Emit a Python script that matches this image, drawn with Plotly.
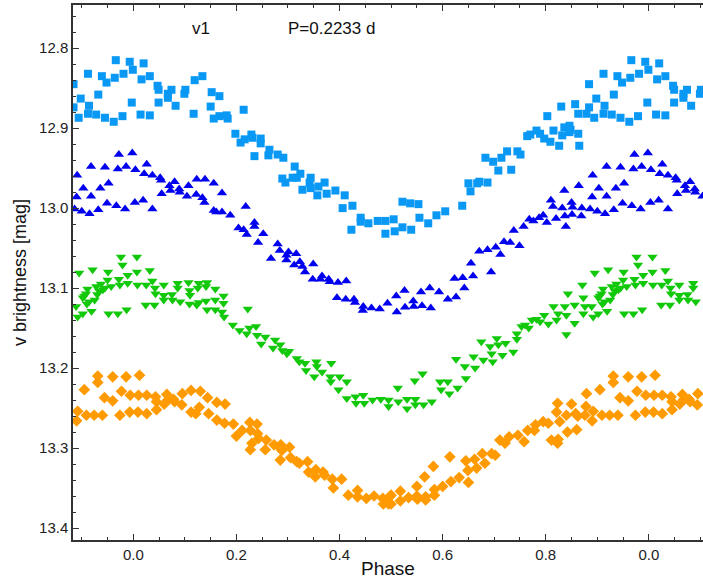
import plotly.graph_objects as go

# ---- data (phase in [0,1), v magnitude) ----
squares = [
    (0.016, 12.839), (0.020, 12.819), (0.014, 12.883), (0.032, 12.884), (0.032, 12.835),
    (0.047, 12.847), (0.049, 12.852), (0.049, 12.868), (0.067, 12.857), (0.067, 12.862),
    (0.074, 12.852), (0.082, 12.872), (0.099, 12.857), (0.101, 12.852), (0.117, 12.882),
    (0.119, 12.840), (0.134, 12.835), (0.150, 12.873), (0.152, 12.855), (0.156, 12.888),
    (0.167, 12.860), (0.167, 12.885), (0.181, 12.884), (0.183, 12.888), (0.214, 12.877),
    (0.198, 12.907), (0.208, 12.918), (0.216, 12.914), (0.229, 12.908), (0.231, 12.912),
    (0.235, 12.935), (0.247, 12.913), (0.247, 12.919), (0.264, 12.927), (0.262, 12.934),
    (0.280, 12.933), (0.291, 12.937), (0.313, 12.948), (0.324, 12.957), (0.289, 12.963),
    (0.295, 12.968), (0.309, 12.962), (0.317, 12.962), (0.328, 12.977), (0.344, 12.962),
    (0.342, 12.968), (0.344, 12.975), (0.357, 12.984), (0.359, 12.973), (0.371, 12.968),
    (0.375, 12.982), (0.392, 12.978), (0.410, 12.984), (0.406, 13.000), (0.425, 12.997),
    (0.423, 13.027), (0.441, 13.012), (0.441, 13.017), (0.456, 13.019), (0.474, 13.016),
    (0.489, 13.016), (0.489, 13.032),
    (0.505, 13.014), (0.507, 13.029), (0.522, 13.024), (0.539, 13.027), (0.522, 12.992),
    (0.537, 12.994), (0.553, 12.995), (0.555, 13.012), (0.572, 13.019), (0.588, 13.009),
    (0.605, 13.004), (0.638, 12.997), (0.650, 12.969), (0.654, 12.979), (0.667, 12.969),
    (0.671, 12.967), (0.687, 12.968), (0.683, 12.937), (0.698, 12.942), (0.714, 12.937),
    (0.725, 12.929), (0.745, 12.929), (0.751, 12.933), (0.708, 12.953), (0.733, 12.952),
    (0.764, 12.910), (0.770, 12.908), (0.782, 12.903), (0.789, 12.907), (0.797, 12.913),
    (0.809, 12.917), (0.815, 12.903), (0.826, 12.922), (0.832, 12.909), (0.836, 12.899),
    (0.846, 12.897), (0.848, 12.902), (0.846, 12.905), (0.863, 12.907), (0.865, 12.922),
    (0.803, 12.885), (0.830, 12.873), (0.857, 12.870), (0.863, 12.882), (0.879, 12.882),
    (0.884, 12.874), (0.894, 12.887), (0.898, 12.863), (0.912, 12.882), (0.914, 12.872),
    (0.928, 12.883), (0.932, 12.858), (0.945, 12.887), (0.962, 12.892), (0.979, 12.885),
    (0.884, 12.845), (0.912, 12.832), (0.939, 12.835), (0.948, 12.843), (0.964, 12.837),
    (0.966, 12.815), (0.981, 12.832), (0.993, 12.817), (0.997, 12.868), (0.999, 12.827),
]

triangles_up = [
    (0.004, 12.952), (0.003, 12.993), (0.021, 12.957), (0.026, 12.945), (0.019, 12.990),
    (0.037, 12.959), (0.037, 13.001), (0.052, 12.962), (0.054, 12.965), (0.055, 12.982),
    (0.070, 12.972), (0.072, 12.978), (0.080, 12.967), (0.089, 12.976), (0.090, 12.980),
    (0.107, 12.972), (0.104, 12.985), (0.123, 12.964), (0.122, 12.983), (0.139, 12.964),
    (0.134, 12.987), (0.138, 12.993), (0.156, 12.969), (0.172, 12.981), (0.156, 13.003),
    (0.161, 13.005), (0.172, 13.005), (0.188, 13.009), (0.218, 12.998), (0.204, 13.025),
    (0.214, 13.027), (0.220, 13.033), (0.235, 13.018), (0.235, 13.023), (0.252, 13.032),
    (0.242, 13.043), (0.280, 13.045), (0.284, 13.053), (0.267, 13.063), (0.297, 13.059),
    (0.301, 13.055), (0.297, 13.065), (0.316, 13.057), (0.312, 13.071), (0.323, 13.067),
    (0.328, 13.073), (0.333, 13.080), (0.349, 13.070), (0.348, 13.089), (0.363, 13.089),
    (0.366, 13.085), (0.379, 13.089), (0.381, 13.092), (0.397, 13.093), (0.413, 13.091),
    (0.395, 13.112), (0.412, 13.114), (0.428, 13.114), (0.430, 13.118), (0.446, 13.123),
    (0.445, 13.128), (0.462, 13.125), (0.478, 13.126), (0.493, 13.119),
    (0.510, 13.110), (0.511, 13.130), (0.526, 13.103), (0.527, 13.124), (0.543, 13.116),
    (0.544, 13.123), (0.560, 13.122), (0.558, 13.105), (0.575, 13.100), (0.577, 13.125),
    (0.593, 13.105), (0.610, 13.114), (0.626, 13.111), (0.642, 13.100), (0.623, 13.088),
    (0.639, 13.087), (0.659, 13.085), (0.694, 13.080), (0.655, 13.069), (0.671, 13.054),
    (0.687, 13.052), (0.703, 13.049), (0.712, 13.058), (0.719, 13.042), (0.731, 13.043),
    (0.749, 13.047), (0.738, 13.028), (0.757, 13.023), (0.768, 13.014), (0.776, 13.016),
    (0.787, 13.012), (0.795, 13.009), (0.802, 13.018), (0.810, 12.990), (0.814, 12.998),
    (0.820, 13.013), (0.832, 13.000), (0.837, 13.010), (0.839, 13.023), (0.836, 12.978),
    (0.850, 12.993), (0.852, 12.999), (0.851, 13.008), (0.864, 12.972), (0.870, 13.000),
    (0.869, 13.010), (0.886, 13.001), (0.890, 12.986), (0.891, 12.959), (0.900, 13.004),
    (0.903, 12.975), (0.915, 13.007), (0.918, 12.985), (0.918, 12.948), (0.932, 13.002),
    (0.936, 12.975), (0.945, 12.949), (0.949, 12.994), (0.952, 12.969), (0.967, 12.997),
    (0.970, 12.951), (0.972, 12.933), (0.984, 13.001), (0.986, 12.948), (0.998, 12.931),
]

triangles_down = [
    (0.007, 13.061), (0.007, 13.080), (0.008, 13.096), (0.025, 13.096), (0.032, 13.078),
    (0.037, 13.091), (0.024, 13.121), (0.041, 13.121), (0.042, 13.100), (0.043, 13.107),
    (0.059, 13.096), (0.059, 13.109), (0.059, 13.115), (0.075, 13.108), (0.076, 13.115),
    (0.086, 13.094), (0.086, 13.100), (0.091, 13.117), (0.107, 13.093), (0.109, 13.103),
    (0.109, 13.120), (0.110, 13.109), (0.127, 13.094), (0.125, 13.100), (0.127, 13.118),
    (0.123, 13.121), (0.143, 13.093), (0.141, 13.098), (0.143, 13.127), (0.141, 13.116),
    (0.159, 13.115), (0.159, 13.101), (0.159, 13.127), (0.175, 13.110), (0.175, 13.119),
    (0.172, 13.130), (0.176, 13.136), (0.222, 13.126), (0.193, 13.146), (0.206, 13.153),
    (0.220, 13.157), (0.225, 13.150), (0.238, 13.148), (0.240, 13.159), (0.248, 13.170),
    (0.256, 13.161), (0.271, 13.175), (0.275, 13.165), (0.285, 13.171), (0.289, 13.178),
    (0.298, 13.182), (0.302, 13.179), (0.317, 13.188), (0.322, 13.192), (0.333, 13.194),
    (0.335, 13.203), (0.355, 13.192), (0.356, 13.198), (0.351, 13.211), (0.366, 13.205),
    (0.382, 13.211), (0.384, 13.194), (0.383, 13.217), (0.400, 13.211), (0.398, 13.227),
    (0.414, 13.217), (0.414, 13.238), (0.431, 13.236), (0.432, 13.244), (0.446, 13.234),
    (0.448, 13.244), (0.464, 13.240), (0.480, 13.239), (0.495, 13.248), (0.495, 13.240),
    (0.514, 13.242), (0.513, 13.225), (0.531, 13.239), (0.531, 13.251), (0.547, 13.239),
    (0.547, 13.246), (0.546, 13.216), (0.561, 13.207), (0.563, 13.246), (0.579, 13.242),
    (0.595, 13.217), (0.597, 13.227), (0.610, 13.217), (0.613, 13.232), (0.629, 13.225),
    (0.626, 13.189), (0.643, 13.198), (0.645, 13.213), (0.660, 13.186), (0.663, 13.200),
    (0.679, 13.190), (0.675, 13.167), (0.692, 13.173), (0.695, 13.182), (0.697, 13.192),
    (0.705, 13.163), (0.708, 13.171), (0.716, 13.184), (0.722, 13.169), (0.737, 13.180),
    (0.744, 13.157), (0.744, 13.164), (0.753, 13.148), (0.760, 13.146), (0.767, 13.150),
    (0.773, 13.140), (0.782, 13.139), (0.789, 13.142), (0.797, 13.134), (0.805, 13.145),
    (0.815, 13.123), (0.821, 13.140), (0.824, 13.132), (0.837, 13.123), (0.840, 13.134),
    (0.840, 13.158), (0.843, 13.107), (0.856, 13.121), (0.856, 13.144), (0.871, 13.096),
    (0.873, 13.112), (0.873, 13.132), (0.876, 13.123), (0.889, 13.123), (0.892, 13.136),
    (0.895, 13.081), (0.902, 13.112), (0.902, 13.132), (0.908, 13.107), (0.911, 13.101),
    (0.914, 13.117), (0.919, 13.129), (0.921, 13.077), (0.928, 13.098), (0.934, 13.104),
    (0.937, 13.095), (0.941, 13.102), (0.950, 13.090), (0.951, 13.080), (0.952, 13.132),
    (0.957, 13.098), (0.970, 13.132), (0.972, 13.089), (0.974, 13.096), (0.976, 13.061),
    (0.979, 13.071), (0.989, 13.084), (0.989, 13.094), (0.987, 13.127),
    (0.905, 13.110), (0.910, 13.120), (0.925, 13.115), (0.930, 13.108), (0.945, 13.100),
]

diamonds = [
    (0.012, 13.209), (0.010, 13.234), (0.009, 13.255), (0.026, 13.234), (0.026, 13.257),
    (0.043, 13.236), (0.045, 13.242), (0.045, 13.252), (0.060, 13.245), (0.065, 13.233),
    (0.067, 13.240), (0.078, 13.239), (0.080, 13.242), (0.094, 13.246), (0.095, 13.232),
    (0.112, 13.228), (0.112, 13.255), (0.121, 13.257), (0.128, 13.249), (0.130, 13.229),
    (0.144, 13.237), (0.146, 13.257), (0.162, 13.243), (0.162, 13.265), (0.178, 13.245),
    (0.177, 13.269), (0.194, 13.270), (0.200, 13.285), (0.211, 13.278), (0.226, 13.268),
    (0.227, 13.278), (0.230, 13.294), (0.227, 13.302), (0.240, 13.270), (0.241, 13.282),
    (0.243, 13.288), (0.258, 13.290), (0.256, 13.302), (0.273, 13.296), (0.284, 13.299),
    (0.286, 13.296), (0.285, 13.315), (0.288, 13.303), (0.303, 13.299), (0.305, 13.312),
    (0.317, 13.317), (0.322, 13.319), (0.338, 13.317), (0.340, 13.330), (0.354, 13.327),
    (0.353, 13.336), (0.368, 13.330), (0.371, 13.334), (0.386, 13.339), (0.388, 13.350),
    (0.404, 13.339), (0.417, 13.359), (0.435, 13.353), (0.435, 13.361), (0.452, 13.363),
    (0.467, 13.360), (0.484, 13.363), (0.485, 13.370), (0.497, 13.361), (0.495, 13.370),
    (0.500, 13.359), (0.500, 13.370), (0.518, 13.354), (0.518, 13.366), (0.534, 13.362),
    (0.550, 13.360), (0.551, 13.364), (0.567, 13.361), (0.567, 13.365), (0.550, 13.348),
    (0.565, 13.336), (0.582, 13.323), (0.584, 13.352), (0.584, 13.359), (0.600, 13.348),
    (0.616, 13.342), (0.614, 13.311), (0.632, 13.337), (0.650, 13.343), (0.645, 13.316),
    (0.649, 13.328), (0.662, 13.314), (0.666, 13.325), (0.677, 13.307), (0.682, 13.319),
    (0.695, 13.307), (0.702, 13.309), (0.711, 13.290), (0.721, 13.294), (0.729, 13.286),
    (0.746, 13.284), (0.758, 13.292), (0.765, 13.278), (0.778, 13.278), (0.780, 13.271),
    (0.795, 13.267), (0.805, 13.269), (0.811, 13.290), (0.823, 13.294), (0.824, 13.289),
    (0.823, 13.244), (0.821, 13.255), (0.827, 13.267), (0.840, 13.259), (0.842, 13.280),
    (0.850, 13.245), (0.858, 13.257), (0.860, 13.277), (0.862, 13.260), (0.876, 13.259),
    (0.878, 13.248), (0.879, 13.232), (0.890, 13.266), (0.892, 13.254), (0.905, 13.227),
    (0.909, 13.259), (0.924, 13.259), (0.931, 13.210), (0.931, 13.218), (0.940, 13.259),
    (0.944, 13.237), (0.960, 13.211), (0.960, 13.241), (0.974, 13.259), (0.977, 13.229),
    (0.986, 13.211), (0.993, 13.255), (0.994, 13.234),
]

x_tick_vals = [0.0, 0.2, 0.4, 0.6, 0.8, 1.0]
x_tick_text = ["0.0", "0.2", "0.4", "0.6", "0.8", "0.0"]
y_tick_vals = [12.8, 12.9, 13.0, 13.1, 13.2, 13.3, 13.4]
y_tick_text = ["12.8", "12.9", "13.0", "13.1", "13.2", "13.3", "13.4"]

X_RANGE = [-0.117, 1.105]
Y_RANGE = [13.415, 12.746]


def folded(points):
    """Phase-folded display: repeat points shifted by one period within the x range."""
    xs, ys = [], []
    for ph, m in points:
        for shift in (-1.0, 0.0, 1.0):
            x = ph + shift
            if X_RANGE[0] <= x <= X_RANGE[1]:
                xs.append(x)
                ys.append(m)
    return xs, ys


series = [
    (squares, "square", "#0A98F5", 8),
    (triangles_up, "triangle-up", "#0000EE", 9),
    (triangles_down, "triangle-down", "#12C80A", 9),
    (diamonds, "diamond", "#FF9A00", 9),
]

fig = go.Figure()
for pts, sym, col, size in series:
    xs, ys = folded(pts)
    fig.add_trace(go.Scatter(
        x=xs, y=ys, mode="markers",
        marker=dict(symbol=sym, color=col, size=size, line=dict(width=0)),
        showlegend=False, hoverinfo="skip",
    ))

font_family = "Liberation Sans, Arial, sans-serif"

fig.update_layout(
    width=703, height=581,
    margin=dict(l=73, r=0, t=5, b=41),
    paper_bgcolor="white", plot_bgcolor="white",
    font=dict(family=font_family, size=15, color="#222"),
    annotations=[
        dict(x=0.132, y=12.775, xref="x", yref="y", text="v1", showarrow=False,
             font=dict(size=17, family=font_family, color="#111"), xanchor="center", yanchor="middle"),
        dict(x=0.297, y=12.775, xref="x", yref="y", text="P=0.2233 d", showarrow=False,
             font=dict(size=17, family=font_family, color="#111"), xanchor="left", yanchor="middle"),
    ],
)

fig.update_xaxes(
    range=X_RANGE, tickvals=x_tick_vals, ticktext=x_tick_text,
    ticks="inside", ticklen=6, tickwidth=1, tickcolor="#333",
    minor=dict(dtick=0.05, tick0=0, ticks="inside", ticklen=3, tickcolor="#333"),
    showline=True, linecolor="#333", linewidth=1.5, mirror="ticks",
    showgrid=False, zeroline=False,
    title=dict(text="Phase", font=dict(size=19, family=font_family, color="#111"), standoff=0),
    tickfont=dict(size=15, family=font_family, color="#222"),
)
fig.update_yaxes(
    range=Y_RANGE, tickvals=y_tick_vals, ticktext=y_tick_text,
    ticks="inside", ticklen=6, tickwidth=1, tickcolor="#333",
    minor=dict(dtick=0.02, tick0=12.8, ticks="inside", ticklen=3, tickcolor="#333"),
    showline=True, linecolor="#333", linewidth=1.5, mirror=False,
    showgrid=False, zeroline=False,
    title=dict(text="v brightness [mag]", font=dict(size=18, family=font_family, color="#111"), standoff=8),
    tickfont=dict(size=15, family=font_family, color="#222"),
)

fig.write_html("out.html", config={"displayModeBar": False})

# remove default page margins so the 703x581 figure fills the window exactly
with open("out.html", "r", encoding="utf-8") as f:
    html = f.read()
html = html.replace("<head>", "<head><style>html,body{margin:0;padding:0;overflow:hidden;}</style>", 1)
with open("out.html", "w", encoding="utf-8") as f:
    f.write(html)
